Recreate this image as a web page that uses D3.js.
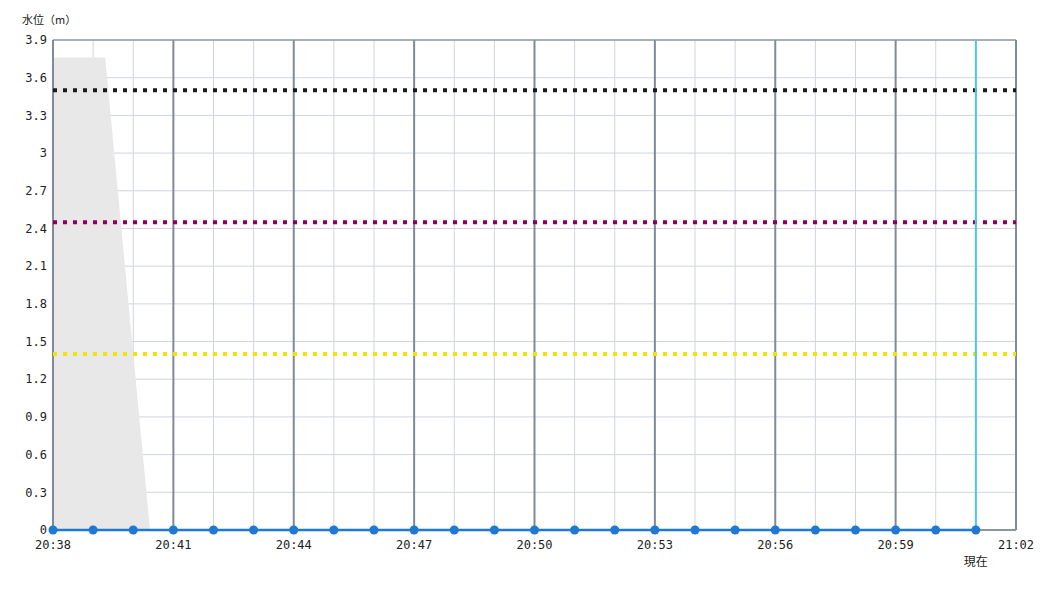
<!DOCTYPE html>
<html>
<head>
<meta charset="utf-8">
<script src="https://cdn.jsdelivr.net/npm/d3@7"></script>
<style>
  html, body { margin: 0; padding: 0; background: #fff; }
  svg { display: block; }
  text { font-family: "DejaVu Sans Mono", monospace; font-size: 12px; fill: #222; }
  .cjk { font-family: "Noto Sans CJK JP", sans-serif; }
</style>
</head>
<body>
<svg id="chart" width="1050" height="600"></svg>
<script>
// ---- data ----
const pointTimes = ["20:38","20:39","20:40","20:41","20:42","20:43","20:44","20:45","20:46","20:47","20:48","20:49",
                    "20:50","20:51","20:52","20:53","20:54","20:55","20:56","20:57","20:58","20:59","21:00","21:01"];
const pointValues = [0,0,0,0,0,0,0,0,0,0,0,0,0,0,0,0,0,0,0,0,0,0,0,0];
const areaTimes = ["20:38:00","20:39:18","20:40:25"];
const areaValues = [3.76, 3.76, 0];
const thresholdValues = [3.5, 2.45, 1.4];
const thresholdColors = ["#1a1a1a", "#8e0060", "#f2e600"];
const yTicks = [0,0.3,0.6,0.9,1.2,1.5,1.8,2.1,2.4,2.7,3,3.3,3.6,3.9];
const xTickLabels = ["20:38","20:41","20:44","20:47","20:50","20:53","20:56","20:59","21:02"];
const xStart = "20:38", xEnd = "21:02";
const currentTime = "21:01";
const yLabel = "水位（m）";
const currentLabel = "現在";

// ---- helpers ----
const parse = s => {
  const p = s.split(":").map(Number);
  return new Date(2024, 0, 1, p[0], p[1], p[2] || 0);
};

const svg = d3.select("#chart");
const mLeft = 53, mRight = 1016, mTop = 40, mBottom = 530;

const x = d3.scaleTime().domain([parse(xStart), parse(xEnd)]).range([mLeft, mRight]);
const y = d3.scaleLinear().domain([0, 3.9]).range([mBottom, mTop]);

const majorTicks = xTickLabels.map(parse);
const majorSet = new Set(majorTicks.map(d => +d));
const minorTicks = d3.timeMinute.range(parse(xStart), d3.timeMinute.offset(parse(xEnd), 1))
  .filter(d => !majorSet.has(+d));

// horizontal grid
svg.append("g").selectAll("line").data(yTicks.filter(v => v > 0 && v < 3.9)).join("line")
  .attr("x1", mLeft).attr("x2", mRight)
  .attr("y1", d => y(d)).attr("y2", d => y(d))
  .attr("stroke", "#cfd5dc").attr("stroke-width", 1);

// vertical minor grid
svg.append("g").selectAll("line").data(minorTicks).join("line")
  .attr("x1", d => x(d)).attr("x2", d => x(d))
  .attr("y1", mTop).attr("y2", mBottom)
  .attr("stroke", "#cfd5dc").attr("stroke-width", 1);

// gray area
const areaData = areaTimes.map((t, i) => ({ t: parse(t), v: areaValues[i] }));
svg.append("path").datum(areaData)
  .attr("d", d3.area().x(d => x(d.t)).y0(y(0)).y1(d => y(d.v)))
  .attr("fill", "#e8e8e8");

// vertical major grid
svg.append("g").selectAll("line").data(majorTicks.filter(d => x(d) > mLeft + 1 && x(d) < mRight - 1)).join("line")
  .attr("x1", d => x(d)).attr("x2", d => x(d))
  .attr("y1", mTop).attr("y2", mBottom)
  .attr("stroke", "#7f8b97").attr("stroke-width", 2);

// frame
svg.append("line").attr("x1", mLeft).attr("x2", mRight).attr("y1", mTop).attr("y2", mTop)
  .attr("stroke", "#8a96a2").attr("stroke-width", 1.5);
svg.append("line").attr("x1", mLeft).attr("x2", mLeft).attr("y1", mTop).attr("y2", mBottom)
  .attr("stroke", "#7f8b97").attr("stroke-width", 2);
svg.append("line").attr("x1", mRight).attr("x2", mRight).attr("y1", mTop).attr("y2", mBottom)
  .attr("stroke", "#7f8b97").attr("stroke-width", 2);
svg.append("line").attr("x1", mLeft).attr("x2", mRight).attr("y1", mBottom).attr("y2", mBottom)
  .attr("stroke", "#8a96a2").attr("stroke-width", 2);

// threshold lines
svg.append("g").selectAll("line").data(thresholdValues).join("line")
  .attr("x1", mLeft).attr("x2", mRight)
  .attr("y1", d => y(d)).attr("y2", d => y(d))
  .attr("stroke", (d, i) => thresholdColors[i])
  .attr("stroke-width", 4)
  .attr("stroke-dasharray", "4 6");

// current time line
svg.append("line")
  .attr("x1", x(parse(currentTime))).attr("x2", x(parse(currentTime)))
  .attr("y1", mTop).attr("y2", mBottom)
  .attr("stroke", "#4fc3f7").attr("stroke-width", 2);

// series line & points
const pts = pointTimes.map((t, i) => ({ t: parse(t), v: pointValues[i] }));
svg.append("path").datum(pts)
  .attr("d", d3.line().x(d => x(d.t)).y(d => y(d.v)))
  .attr("fill", "none").attr("stroke", "#1f78d1").attr("stroke-width", 2.5);
svg.append("g").selectAll("circle").data(pts).join("circle")
  .attr("cx", d => x(d.t)).attr("cy", d => y(d.v)).attr("r", 4.5)
  .attr("fill", "#1f78d1");

// y axis labels
svg.append("g").selectAll("text").data(yTicks).join("text")
  .attr("x", mLeft - 6).attr("y", d => y(d)).attr("dy", "0.35em")
  .attr("text-anchor", "end")
  .text(d => d3.format("~g")(d));

// x axis labels
const fmt = d3.timeFormat("%H:%M");
svg.append("g").selectAll("text").data(majorTicks).join("text")
  .attr("x", d => x(d)).attr("y", mBottom + 19)
  .attr("text-anchor", "middle")
  .text(d => fmt(d));

// titles
svg.append("text").attr("class", "cjk").attr("x", 22).attr("y", 24).style("font-size", "11px").text(yLabel);
svg.append("text").attr("class", "cjk").attr("x", x(parse(currentTime))).attr("y", 566)
  .attr("text-anchor", "middle").style("font-size", "12px").text(currentLabel);
</script>
</body>
</html>
